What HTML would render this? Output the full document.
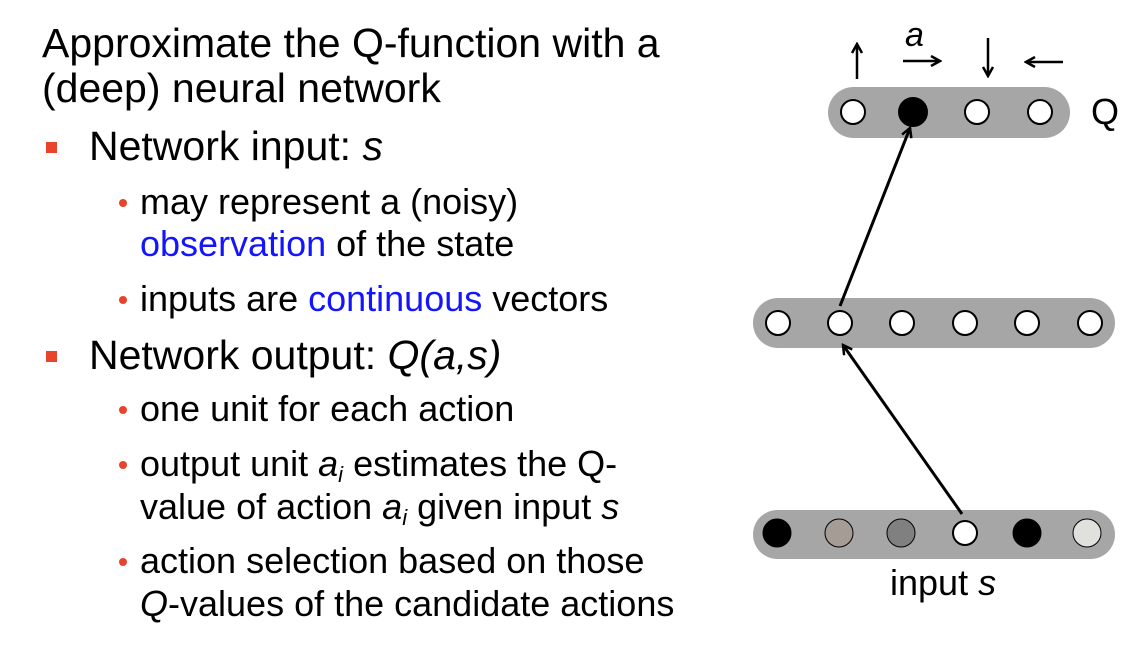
<!DOCTYPE html>
<html><head><style>
body{margin:0;width:1142px;height:648px;background:#fff;position:relative;overflow:hidden;font-family:"Liberation Sans",Arial,sans-serif;color:#000}
.t{position:absolute;white-space:nowrap;line-height:1}
.h{font-size:41px}
.s{font-size:36px}
.b{color:#1414ff}
.sq{position:absolute;width:11px;height:11px;background:#e8432c}
.dot{position:absolute;width:8px;height:8px;border-radius:50%;background:#e8432c}
sub{font-size:22px;vertical-align:-6px;line-height:0}
</style></head><body>
<div class="t h" style="left:42px;top:23px">Approximate the Q-function with a</div>
<div class="t h" style="left:42px;top:68px">(deep) neural network</div>
<div class="sq" style="left:46px;top:142px"></div>
<div class="t h" style="left:89px;top:126px">Network input: <i>s</i></div>
<div class="dot" style="left:119px;top:199px"></div>
<div class="t s" style="left:140px;top:184px">may represent a (noisy)</div>
<div class="t s" style="left:140px;top:226px"><span class="b">observation</span> of the state</div>
<div class="dot" style="left:119px;top:296px"></div>
<div class="t s" style="left:140px;top:281px">inputs are <span class="b">continuous</span> vectors</div>
<div class="sq" style="left:46px;top:351px"></div>
<div class="t h" style="left:89px;top:335px">Network output: <i>Q(a,s)</i></div>
<div class="dot" style="left:119px;top:406px"></div>
<div class="t s" style="left:140px;top:391px">one unit for each action</div>
<div class="dot" style="left:119px;top:461px"></div>
<div class="t s" style="left:140px;top:446px">output unit <i>a<sub>i</sub></i> estimates the Q-</div>
<div class="t s" style="left:140px;top:489px">value of action <i>a<sub>i</sub></i> given input <i>s</i></div>
<div class="dot" style="left:119px;top:558px"></div>
<div class="t s" style="left:140px;top:543px">action selection based on those</div>
<div class="t s" style="left:140px;top:586px"><i>Q</i>-values of the candidate actions</div>

<svg width="1142" height="648" style="position:absolute;left:0;top:0">
<defs><marker id="ar" markerWidth="12" markerHeight="12" refX="10" refY="6" orient="auto" markerUnits="userSpaceOnUse"><path d="M1,1 L10,6 L1,11" fill="none" stroke="#000" stroke-width="2.5"/></marker></defs>
<rect x="828" y="87" width="242" height="51" rx="25.5" fill="#a6a6a6"/>
<rect x="753" y="298" width="362" height="50" rx="25" fill="#a6a6a6"/>
<rect x="753" y="510" width="362" height="49" rx="24.5" fill="#a6a6a6"/>
<g stroke="#000" stroke-width="2">
<circle cx="853" cy="112" r="12" fill="#fff"/>
<circle cx="913" cy="112" r="14" fill="#000"/>
<circle cx="977" cy="112" r="12" fill="#fff"/>
<circle cx="1040" cy="112" r="12" fill="#fff"/>
<circle cx="778" cy="323" r="12" fill="#fff"/>
<circle cx="840" cy="323" r="12" fill="#fff"/>
<circle cx="902" cy="323" r="12" fill="#fff"/>
<circle cx="965" cy="323" r="12" fill="#fff"/>
<circle cx="1027" cy="323" r="12" fill="#fff"/>
<circle cx="1090" cy="323" r="12" fill="#fff"/>
</g>
<g stroke="#000" stroke-width="1">
<circle cx="777" cy="533" r="14" fill="#000"/>
<circle cx="839" cy="533" r="14" fill="#a59d95"/>
<circle cx="901" cy="533" r="14" fill="#808080"/>
<circle cx="965" cy="533" r="12" fill="#fff" stroke-width="2"/>
<circle cx="1027" cy="533" r="14" fill="#000"/>
<circle cx="1087" cy="533" r="14" fill="#e0e0dc"/>
</g>
<g stroke="#000" stroke-width="3" fill="none" marker-end="url(#ar)">
<line x1="962" y1="514" x2="843" y2="345"/>
<line x1="840" y1="306" x2="910" y2="128"/>
</g>
<g stroke="#000" stroke-width="2.5" fill="none" marker-end="url(#ar)">
<line x1="857" y1="79" x2="857" y2="44"/>
<line x1="903" y1="61" x2="940" y2="61"/>
<line x1="988" y1="38" x2="988" y2="76"/>
<line x1="1063" y1="62" x2="1026" y2="62"/>
</g>
<text x="905" y="46" font-size="34" font-style="italic" font-family="Liberation Sans,sans-serif">a</text>
<text x="1091" y="124" font-size="36" font-family="Liberation Sans,sans-serif">Q</text>
<text x="890" y="595" font-size="36" font-family="Liberation Sans,sans-serif">input <tspan font-style="italic">s</tspan></text>
</svg>
</body></html>
